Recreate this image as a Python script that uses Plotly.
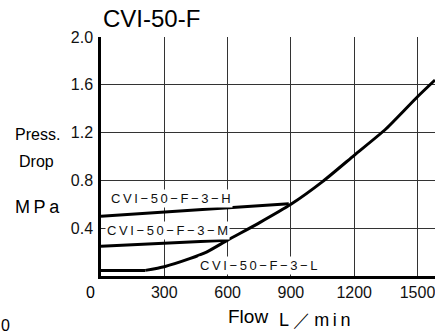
import plotly.graph_objects as go

# ---- data ----
flow_L = [0, 210, 300, 420, 500, 600, 750, 900, 1050, 1200, 1350, 1500, 1583]
dp_L = [0.047, 0.047, 0.078, 0.145, 0.20, 0.30, 0.445, 0.60, 0.79, 1.01, 1.23, 1.50, 1.64]
flow_M = [0, 595]
dp_M = [0.25, 0.30]
flow_H = [0, 890]
dp_H = [0.50, 0.605]

x_ticks = [300, 600, 900, 1200, 1500]
y_ticks = [0.4, 0.8, 1.2, 1.6, 2.0]
y_ticklabels = ["0.4", "0.8", "1.2", "1.6", "2.0"]

series_labels = ["CVI−50−F−3−H", "CVI−50−F−3−M", "CVI−50−F−3−L"]
label_pos = [(40, 0.646), (18, 0.38), (458, 0.084)]

W, H = 435, 332
L, R, T, B = 101, 0, 37, 56
PW, PH = W - L - R, H - T - B


def px(xp):
    return (xp - L) / PW


def py(yp):
    return (H - B - yp) / PH


def spaced(s):
    return "\u2009".join(list(s))


fig = go.Figure()
line_style = dict(color="black", width=3)
# flat start of the L curve (straight), then the smooth rising part
fig.add_trace(go.Scatter(x=flow_L[:2], y=dp_L[:2], mode="lines", line=line_style,
                         showlegend=False, hoverinfo="skip"))
fig.add_trace(go.Scatter(x=flow_L[1:], y=dp_L[1:], mode="lines",
                         line=dict(line_style, shape="spline", smoothing=0.6),
                         showlegend=False, hoverinfo="skip"))
for fx, fy in [(flow_M, dp_M), (flow_H, dp_H)]:
    fig.add_trace(go.Scatter(x=fx, y=fy, mode="lines", line=line_style,
                             showlegend=False, hoverinfo="skip"))

lab_font = dict(family="Liberation Sans, Arial, sans-serif", size=13, color="#111")
for txt, (lx, ly) in zip(series_labels, label_pos):
    fig.add_annotation(x=lx, y=ly, xref="x", yref="y", text=spaced(txt),
                       showarrow=False, xanchor="left", yanchor="middle",
                       bgcolor="white", borderpad=1, font=lab_font)

ann_font = dict(family="Liberation Sans, Arial, sans-serif", color="black")
texts = [
    ("CVI-50-F", 151.5, 18.5, 24),
    ("Press.", 37, 134, 16),
    ("Drop", 36, 161, 16),
    (spaced("MPa"), 37, 207, 18),
    ("Flow", 248, 316, 19),
    (spaced("L／min"), 314, 320, 18),
    ("0", 90, 292, 16),
    ("0", 5, 325, 16),
]
for t, xx, yy, sz in texts:
    fig.add_annotation(x=px(xx), y=py(yy), xref="paper", yref="paper", text=t,
                       showarrow=False, xanchor="center", yanchor="middle",
                       font=dict(ann_font, size=sz))

tick_font = dict(family="Liberation Sans, Arial, sans-serif", size=16, color="#111")
fig.update_xaxes(range=[0, 1583], tickvals=x_ticks, ticktext=[str(v) for v in x_ticks],
                 showgrid=True, gridcolor="#333", gridwidth=1,
                 showline=True, linecolor="black", linewidth=2.5,
                 zeroline=False, ticks="", ticklabelstandoff=0,
                 ticklabeloverflow="allow", tickfont=tick_font)
fig.update_yaxes(range=[0, 2.0], tickvals=y_ticks, ticktext=y_ticklabels,
                 showgrid=True, gridcolor="#333", gridwidth=1,
                 showline=True, linecolor="black", linewidth=2.5,
                 zeroline=False, ticks="", ticklabelstandoff=2,
                 ticklabeloverflow="allow", tickfont=tick_font)

fig.update_layout(width=W, height=H, margin=dict(l=L, r=R, t=T, b=B),
                  plot_bgcolor="white", paper_bgcolor="white", showlegend=False)

fig.write_html("out.html", config={"displayModeBar": False},
               post_script="document.body.style.margin='0';document.body.style.overflow='hidden';")
